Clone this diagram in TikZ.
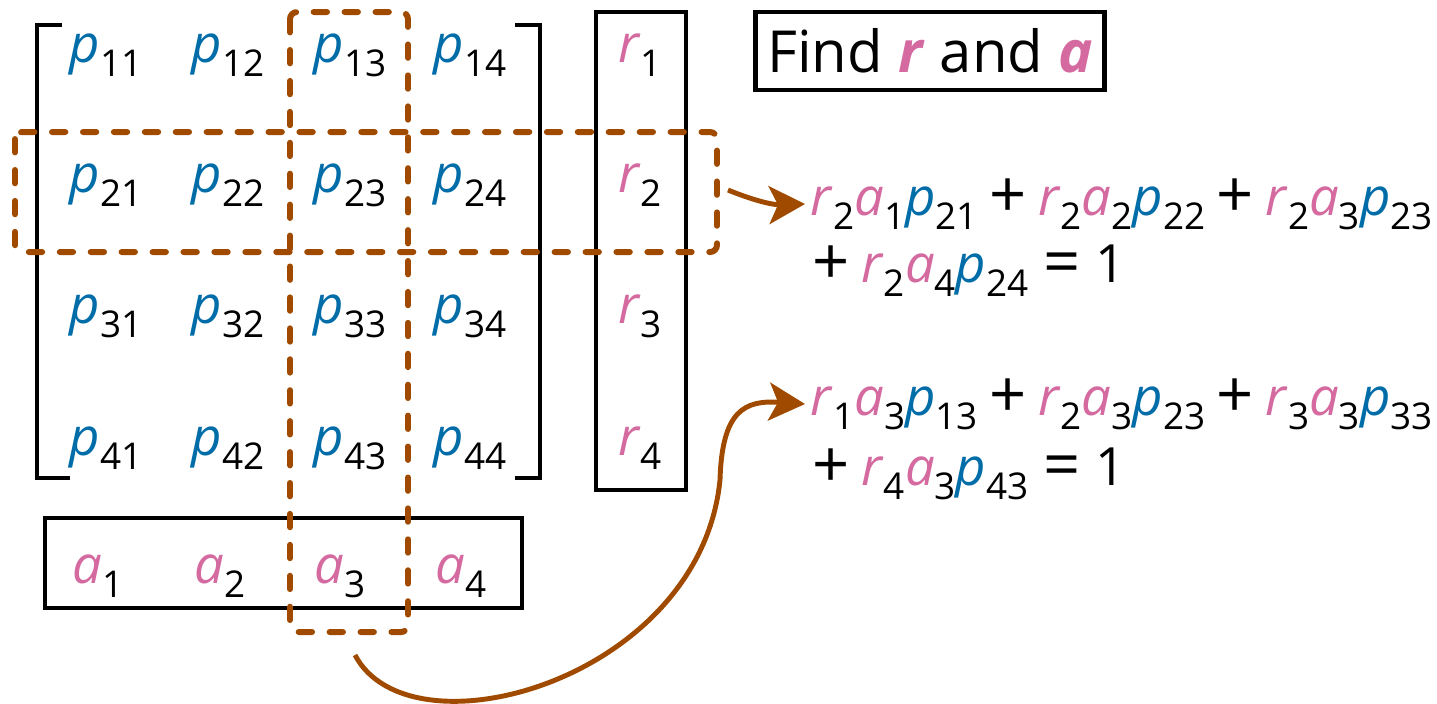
\documentclass[tikz,border=0pt]{standalone}
\usepackage{fontspec}
\setmainfont{Open Sans}
\usetikzlibrary{arrows.meta,positioning,calc}
\definecolor{pblue}{RGB}{0,108,168}
\definecolor{rpink}{RGB}{212,106,160}
\definecolor{selbrown}{RGB}{160,74,0}
\newcommand{\ix}[1]{\raisebox{-0.27em}{\fontsize{10.5}{10}\selectfont #1}}
\newcommand{\pv}[1]{\textcolor{pblue}{\textit{p}}\ix{#1}}
\newcommand{\rv}[1]{\textcolor{rpink}{\textit{r}}\ix{#1}}
\newcommand{\av}[1]{\textcolor{rpink}{\textit{a}}\ix{#1}}
\newcommand{\bigop}[1]{\raisebox{-0.04em}{\fontsize{18.5}{18}\selectfont #1}}
\newcommand{\eqplus}{\hspace{0.22em}\bigop{+}\hspace{0.22em}}
\newcommand{\eqis}{\hspace{0.28em}\bigop{=}\hspace{0.28em}}

\begin{document}
\begin{tikzpicture}[>=Stealth,font=\fontsize{15}{18}\selectfont,
  ent/.style={anchor=base,inner sep=0pt},
  box/.style={draw,line width=1.35pt},
  sel/.style={draw=selbrown,line width=1.7pt,line cap=round,dash pattern=on 3.8pt off 5pt,rounded corners=2pt},
  link/.style={-{Stealth[length=0.36cm,width=0.38cm,inset=0.09cm]},draw=selbrown,fill=none,line width=1.4pt}]
\useasboundingbox (0,0) rectangle (14.37,-7.03);
% matrix entries and r vector
\foreach \i/\y in {1/-0.62,2/-1.92,3/-3.23,4/-4.55}{
  \foreach \j/\x in {1/1.06,2/2.28,3/3.50,4/4.70}
    \node[ent] (p\i\j) at (\x,\y) {\pv{\i\j}};
  \node[ent] (r\i) at (6.40,\y) {\rv{\i}};
}
% a vector
\foreach \j/\x in {1/0.98,2/2.20,3/3.40,4/4.61}
  \node[ent] (a\j) at (\x,-5.83) {\av{\j}};
% brackets and boxes
\draw[line width=1.35pt] (0.62,-0.25) -| (0.37,-4.78) -- (0.70,-4.78);
\draw[line width=1.35pt] (5.15,-0.25) -| (5.40,-4.78) -- (5.15,-4.78);
\draw[box] (5.96,-0.12) rectangle (6.86,-4.90);
\draw[box] (0.45,-5.18) rectangle (5.22,-6.08);
\node[box,minimum width=3.48cm,minimum height=0.78cm,font=\fontsize{16.5}{18}\selectfont] (goal) at (9.30,-0.51)
  {Find \textcolor{rpink}{\textbf{\textit{r}}} and \textcolor{rpink}{\textbf{\textit{a}}}};
% selected row and column
\draw[sel] (2.90,-0.12) rectangle (4.08,-6.32);
\draw[sel] (0.15,-1.32) rectangle (7.17,-2.52);
% equations
\node[anchor=base west,inner sep=0.05cm] (eqone) at (8.05,-2.15) {\rv{2}\av{1}\pv{21}\eqplus\rv{2}\av{2}\pv{22}\eqplus\rv{2}\av{3}\pv{23}};
\node[anchor=base west,inner sep=0pt] (eqonel) at (8.12,-2.82) {\bigop{+}\hspace{0.22em}\rv{2}\av{4}\pv{24}\eqis 1};
\node[anchor=base west,inner sep=0.05cm] (eqtwo) at (8.05,-4.15) {\rv{1}\av{3}\pv{13}\eqplus\rv{2}\av{3}\pv{23}\eqplus\rv{3}\av{3}\pv{33}};
\node[anchor=base west,inner sep=0pt] (eqtwol) at (8.12,-4.85) {\bigop{+}\hspace{0.22em}\rv{4}\av{3}\pv{43}\eqis 1};
% arrows
\coordinate (rowtail) at (7.28,-1.90);
\coordinate (coltail) at (3.55,-6.55);
\draw[link] (rowtail) to[bend right=12] (eqone.west);
\draw[link] (coltail) .. controls (4.10,-7.60) and (7.00,-6.80) .. (7.20,-4.80) .. controls (7.22,-4.10) and (7.45,-4.00) .. (eqtwo.west);
\end{tikzpicture}
\end{document}
